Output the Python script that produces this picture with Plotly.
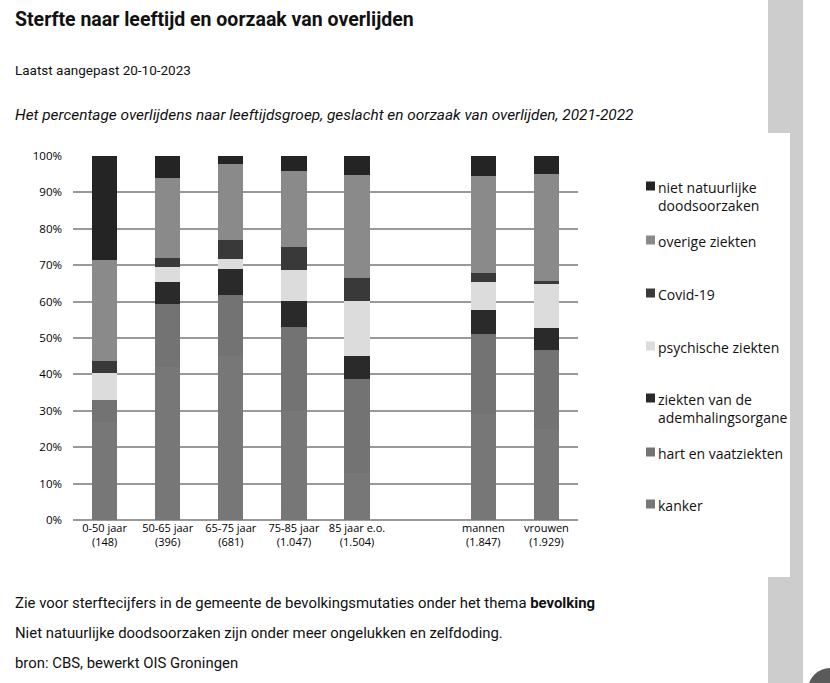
import plotly.graph_objects as go

# ---- data ----
categories = ["0-50 jaar<br>(148)", "50-65 jaar<br>(396)", "65-75 jaar<br>(681)",
              "75-85 jaar<br>(1.047)", "85 jaar e.o.<br>(1.504)", " ",
              "mannen<br>(1.847)", "vrouwen<br>(1.929)"]
kanker        = [27.0, 42.0, 45.0, 30.0, 13.0, None, 29.0, 25.0]
hart_vaat     = [6.1, 17.3, 16.8, 22.9, 25.7, None, 22.1, 21.8]
ademhaling    = [0.0, 6.2, 7.1, 7.3, 6.4, None, 6.6, 6.0]
psychisch     = [7.3, 3.9, 2.9, 8.5, 15.2, None, 7.6, 11.9]
covid         = [3.4, 2.7, 5.1, 6.4, 6.1, None, 2.5, 1.0]
overige       = [27.6, 21.9, 20.8, 20.7, 28.4, None, 26.7, 29.4]
niet_natuurl  = [28.6, 6.0, 2.3, 4.2, 5.2, None, 5.5, 4.9]

series_names = ["kanker", "hart en vaatziekten", "ziekten van de<br>ademhalingsorgane",
                "psychische ziekten", "Covid-19", "overige ziekten",
                "niet natuurlijke<br>doodsoorzaken"]
series_values = [kanker, hart_vaat, ademhaling, psychisch, covid, overige, niet_natuurl]
series_colors = ["#777777", "#737373", "#2a2a2a", "#dcdcdc", "#393939", "#8a8a8a", "#242424"]
y_ticks = [0, 10, 20, 30, 40, 50, 60, 70, 80, 90, 100]
y_tick_labels = ["0%", "10%", "20%", "30%", "40%", "50%", "60%", "70%", "80%", "90%", "100%"]

# ---- layout geometry (pixels) ----
W, H = 830, 683
PL, PR, PT, PBOT = 73, 578, 156, 520
PW, PH = PR - PL, PBOT - PT


def fx(px):
    return (px - PL) / PW


def fy(py):
    return (PBOT - py) / PH


fig = go.Figure()
for name, vals, col in zip(series_names, series_values, series_colors):
    fig.add_trace(go.Bar(x=categories, y=vals, name=name, marker_color=col,
                         marker_line_width=0, width=0.4, showlegend=False,
                         hovertemplate="%{y}%<extra>" + name + "</extra>"))

shapes = []
annotations = []

# manual legend (top to bottom)
legend_top = [186, 240, 293, 346, 398, 452, 504]
for (name, col), ly in zip(list(zip(series_names, series_colors))[::-1], legend_top):
    shapes.append(dict(type="rect", xref="paper", yref="paper",
                       x0=fx(646), x1=fx(655), y0=fy(ly + 4.5), y1=fy(ly - 4.5),
                       fillcolor=col, line_width=0))
    annotations.append(dict(xref="paper", yref="paper", x=fx(656), y=fy(ly - 10),
                            xanchor="left", yanchor="top", align="left", showarrow=False,
                            text=name, font=dict(family="Open Sans", size=14, color="#111")))

# side panels
gray = "#cdcdcd"
shapes += [
    dict(type="rect", xref="paper", yref="paper", x0=fx(768), x1=fx(803), y0=fy(133), y1=fy(0),
         fillcolor=gray, line_width=0, layer="below"),
    dict(type="rect", xref="paper", yref="paper", x0=fx(790), x1=fx(803), y0=fy(577), y1=fy(133),
         fillcolor=gray, line_width=0, layer="below"),
    dict(type="rect", xref="paper", yref="paper", x0=fx(768), x1=fx(803), y0=fy(683), y1=fy(577),
         fillcolor=gray, line_width=0, layer="below"),
    dict(type="circle", xref="paper", yref="paper", x0=fx(808), x1=fx(852), y0=fy(712), y1=fy(668),
         fillcolor="#5a5a5a", line_width=0),
]

txt_font = "Roboto"
texts = [
    (13, 19, "<b>Sterfte naar leeftijd en oorzaak van overlijden</b>", 19.5),
    (13, 70, "Laatst aangepast 20-10-2023", 13.5),
    (13, 115, "<i>Het percentage overlijdens naar leeftijdsgroep, geslacht en oorzaak van overlijden, 2021-2022</i>", 15.4),
    (13, 603, "Zie voor sterftecijfers in de gemeente de bevolkingsmutaties onder het thema <b>bevolking</b>", 14.9),
    (13, 633, "Niet natuurlijke doodsoorzaken zijn onder meer ongelukken en zelfdoding.", 14.9),
    (13, 663, "bron: CBS, bewerkt OIS Groningen", 14.9),
]
for x, y, t, s in texts:
    annotations.append(dict(xref="paper", yref="paper", x=fx(x), y=fy(y), xanchor="left",
                            yanchor="middle", showarrow=False, text=t,
                            font=dict(family=txt_font, size=s, color="#111")))

fig.update_layout(
    width=W, height=H,
    margin=dict(l=PL, r=W - PR, t=PT, b=H - PBOT, pad=0),
    barmode="stack",
    paper_bgcolor="white", plot_bgcolor="white",
    showlegend=False,
    shapes=shapes, annotations=annotations,
    font=dict(family="Open Sans", size=11, color="#000"),
    xaxis=dict(type="category", categoryorder="array", categoryarray=categories,
               range=[-0.5, 7.5], showgrid=False, showline=False, ticks="",
               tickfont=dict(family="Open Sans", size=11, color="#000"), fixedrange=True),
    yaxis=dict(range=[0, 100], tickmode="array", tickvals=y_ticks, ticktext=y_tick_labels,
               showgrid=True, gridcolor="#999999", gridwidth=1.6, zeroline=True,
               zerolinecolor="#999999", zerolinewidth=1.6, showline=False, ticks="",
               ticklabelstandoff=10,
               tickfont=dict(family="Open Sans", size=11.5, color="#000"), fixedrange=True),
)

fig.write_html("out.html", config={"displayModeBar": False},
               post_script="document.body.style.margin='0';")
